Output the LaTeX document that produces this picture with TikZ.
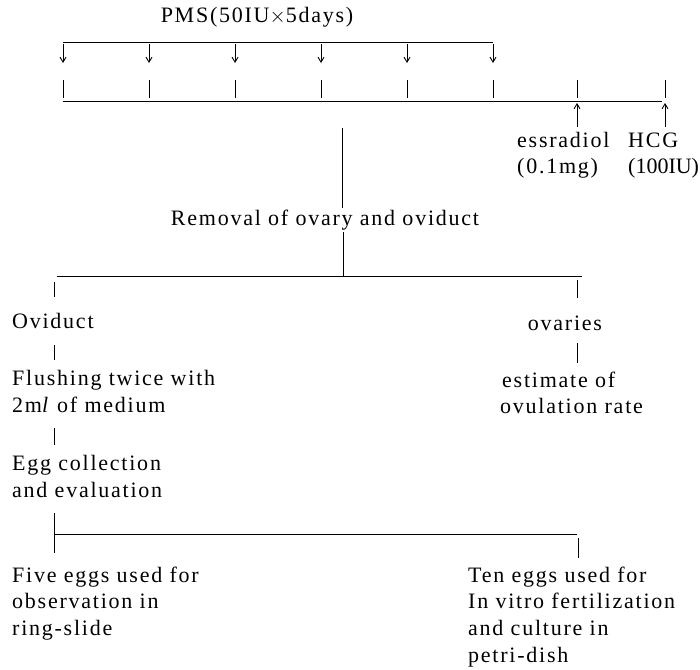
\documentclass[tikz,border=0pt]{standalone}
\usepackage{fontspec}
\setmainfont{Liberation Serif}[LetterSpace=8]
\newfontfamily\plainserif{Liberation Serif}
\usetikzlibrary{arrows.meta}
\begin{document}
\begin{tikzpicture}[x=1pt,y=-1pt,
  txt/.style={inner sep=0pt, font=\fontsize{22}{26}\selectfont},
  lbl/.style={txt, anchor=base west},
  ctr/.style={txt, anchor=base},
  ln/.style={line width=0.9pt},
  arr/.style={ln,-{Straight Barb[length=5pt,width=6pt]}}]
\useasboundingbox (0,0) rectangle (700,669);
% top bracket and PMS
\node[ctr] (pms) at (257,23) {PMS(50IU$\times$5days)};
\coordinate (tl) at (63,42);
\coordinate (tr) at (493,42);
\draw[ln] (tl) -- (tr);
\foreach \i/\x in {1/63,2/149,3/235,4/321,5/407,6/493}{
  \coordinate (a\i) at (\x,44);
  \coordinate (b\i) at (\x,63);
  \draw[arr] (a\i) -- (b\i);
}
% timeline ticks
\foreach \i/\x in {1/63,2/149,3/235,4/321,5/407,6/493,7/577,8/665}{
  \coordinate (t\i) at (\x,80);
  \coordinate (u\i) at (\x,98);
  \draw[ln] (t\i) -- (u\i);
}
\coordinate (ll) at (63,101);
\coordinate (lr) at (662,101);
\draw[ln] (ll) -- (lr);
% essradiol and HCG
\node[lbl] (ess) at (517,147) {essradiol};
\node[lbl] (essd) at (517,173) {(0.1mg)};
\node[lbl] (hcg) at (628,147) {HCG};
\node[lbl, font=\fontsize{22}{26}\plainserif] (hcgd) at (628,173) {(100IU)};
\coordinate (e1) at (577,127);
\coordinate (e2) at (577,103);
\coordinate (h1) at (665,127);
\coordinate (h2) at (665,103);
\draw[arr] (e1) -- (e2);
\draw[arr] (h1) -- (h2);
% removal
\coordinate (v1) at (342,128);
\coordinate (v2) at (342,208);
\draw[ln] (v1) -- (v2);
\node[ctr] (rem) at (325,225) {Removal of ovary and oviduct};
\coordinate (v3) at (343,232);
\coordinate (v4) at (343,276);
\draw[ln] (v3) -- (v4);
\coordinate (hl) at (57,276);
\coordinate (hr) at (582,276);
\draw[ln] (hl) -- (hr);
\draw[ln] (54,282) coordinate (p1) -- (54,297) coordinate (p2);
\draw[ln] (577,280) coordinate (q1) -- (577,298) coordinate (q2);
% left column
\node[lbl] (ovd) at (12,328) {Oviduct};
\draw[ln] (54,345) coordinate (p3) -- (54,360) coordinate (p4);
\node[lbl] (fl1) at (12,385) {Flushing twice with};
\node[lbl] (fl2) at (12,412) {2m\textit{l} of medium};
\draw[ln] (54,428) coordinate (p5) -- (54,445) coordinate (p6);
\node[lbl] (eg1) at (12,470) {Egg collection};
\node[lbl] (eg2) at (12,497) {and evaluation};
\draw[ln] (54,513) coordinate (p7) -- (54,553) coordinate (p8);
\coordinate (gl) at (54,534);
\coordinate (gr) at (577,534);
\draw[ln] (gl) -- (gr);
\draw[ln] (578,538) coordinate (q5) -- (578,558) coordinate (q6);
\node[lbl] (fv1) at (12,582) {Five eggs used for};
\node[lbl] (fv2) at (12,608) {observation in};
\node[lbl] (fv3) at (12,635) {ring-slide};
% right column
\node[ctr] (ova) at (565,330) {ovaries};
\draw[ln] (577,343) coordinate (q3) -- (577,363) coordinate (q4);
\node[lbl] (es1) at (502,387) {estimate of};
\node[lbl] (es2) at (500,413) {ovulation rate};
\node[lbl] (tn1) at (468,582) {Ten eggs used for};
\node[lbl] (tn2) at (468,608) {In vitro fertilization};
\node[lbl] (tn3) at (468,635) {and culture in};
\node[lbl] (tn4) at (468,662) {petri-dish};
\end{tikzpicture}
\end{document}
